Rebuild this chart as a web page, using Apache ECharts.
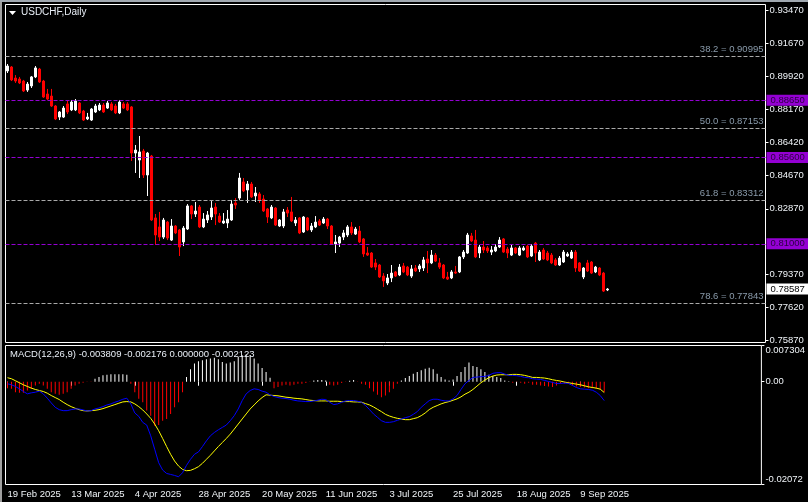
<!DOCTYPE html>
<html><head><meta charset="utf-8">
<script src="https://cdn.jsdelivr.net/npm/echarts@6/dist/echarts.min.js"></script>
<style>html,body{margin:0;padding:0;background:#000;overflow:hidden}#c{width:808px;height:502px}</style>
</head><body><div id="c"></div>
<script>
// ---- trading days (categories) ----
const febDays = [19,20,21,24,25,26,27,28];
const marDays = [3,4,5,6,7,10,11,12,13,14,17,18,19,20,21,24,25,26,27,28,31];
const aprDays = [1,2,3,4,7,8,9,10,11,14,15,16,17,18,21,22,23,24,25,28,29,30];
const mayDays = [1,2,5,6,7,8,9,12,13,14,15,16,19,20,21,22,23,26,27,28,29,30];
const junDays = [2,3,4,5,6,9,10,11,12,13,16,17,18,19,20,23,24,25,26,27,30];
const julDays = [1,2,3,4,7,8,9,10,11,14,15,16,17,18,21,22,23,24,25,28,29,30,31];
const augDays = [1,4,5,6,7,8,11,12,13,14,15,18,19,20,21,22,25,26,27,28,29];
const sepDays = [1,2,3,4,5,8,9,10,11,12,15,16,17];

// ---- OHLC ----
const openP = [0.9022,0.9043,0.8984,0.8979,0.8968,0.8920,0.8942,0.8990,0.9032,0.8968,
0.8899,0.8888,0.8835,0.8776,0.8776,0.8846,0.8814,0.8814,0.8851,0.8808,
0.8766,0.8760,0.8803,0.8814,0.8840,0.8824,0.8846,0.8835,0.8798,0.8846,
0.8846,0.8830,0.8584,0.8547,0.8595,0.8467,0.8568,0.8238,0.8190,0.8136,
0.8216,0.8120,0.8195,0.8174,0.8110,0.8179,0.8302,0.8259,0.8296,0.8190,
0.8227,0.8243,0.8296,0.8248,0.8211,0.8211,0.8227,0.8318,0.8344,0.8430,
0.8387,0.8419,0.8355,0.8366,0.8339,0.8286,0.8238,0.8291,0.8195,0.8195,
0.8280,0.8270,0.8211,0.8238,0.8163,0.8238,0.8174,0.8190,0.8222,0.8211,
0.8232,0.8195,0.8099,0.8104,0.8136,0.8147,0.8190,0.8152,0.8168,0.8126,
0.8051,0.8051,0.7998,0.7987,0.7928,0.7891,0.7918,0.7950,0.7934,0.7982,
0.7976,0.7928,0.7971,0.7966,0.7971,0.8019,0.7998,0.8040,0.7998,0.7987,
0.7923,0.7918,0.7950,0.7950,0.8030,0.8051,0.8142,0.8120,0.8051,0.8083,
0.8078,0.8056,0.8062,0.8083,0.8126,0.8072,0.8040,0.8078,0.8040,0.8067,
0.8088,0.8035,0.8104,0.8014,0.8067,0.8051,0.8040,0.8014,0.7987,0.8003,
0.8035,0.8024,0.8056,0.7998,0.7923,0.7998,0.8003,0.7950,0.7971,0.7944,
0.7854];
const closeP = [0.9048,0.8974,0.8968,0.8958,0.8915,0.8952,0.8990,0.9038,0.8963,0.8883,
0.8872,0.8835,0.8766,0.8803,0.8824,0.8803,0.8856,0.8862,0.8798,0.8760,
0.8776,0.8819,0.8835,0.8840,0.8803,0.8851,0.8814,0.8798,0.8856,0.8824,
0.8814,0.8584,0.8600,0.8590,0.8467,0.8584,0.8227,0.8147,0.8136,0.8227,
0.8131,0.8195,0.8158,0.8083,0.8184,0.8302,0.8259,0.8275,0.8190,0.8232,
0.8254,0.8291,0.8259,0.8216,0.8222,0.8232,0.8312,0.8307,0.8451,0.8382,
0.8419,0.8350,0.8371,0.8334,0.8275,0.8243,0.8296,0.8200,0.8227,0.8270,
0.8264,0.8222,0.8227,0.8158,0.8243,0.8174,0.8195,0.8216,0.8200,0.8232,
0.8195,0.8099,0.8110,0.8136,0.8158,0.8190,0.8158,0.8179,0.8110,0.8046,
0.8040,0.7976,0.7976,0.7923,0.7902,0.7918,0.7944,0.7928,0.7976,0.7950,
0.7934,0.7966,0.7955,0.7982,0.8014,0.7998,0.8040,0.8008,0.7976,0.7918,
0.7912,0.7950,0.7944,0.8030,0.8056,0.8147,0.8115,0.8030,0.8083,0.8067,
0.8062,0.8067,0.8083,0.8120,0.8056,0.8051,0.8078,0.8051,0.8078,0.8078,
0.8030,0.8088,0.8051,0.8056,0.8019,0.8014,0.7998,0.7987,0.8024,0.8056,
0.8046,0.8056,0.7971,0.7955,0.7971,0.7955,0.7944,0.7976,0.7934,0.7848,
0.78587];
const lowP = [0.9011,0.8968,0.8958,0.8952,0.8910,0.8910,0.8931,0.8984,0.8958,0.8878,
0.8867,0.8830,0.8760,0.8760,0.8771,0.8792,0.8808,0.8808,0.8792,0.8755,
0.8760,0.8755,0.8798,0.8808,0.8798,0.8819,0.8808,0.8792,0.8792,0.8819,
0.8808,0.8542,0.8478,0.8451,0.8451,0.8355,0.8222,0.8094,0.8115,0.8126,
0.8120,0.8115,0.8152,0.8035,0.8088,0.8174,0.8232,0.8243,0.8184,0.8184,
0.8211,0.8227,0.8200,0.8211,0.8206,0.8184,0.8222,0.8286,0.8334,0.8376,
0.8318,0.8344,0.8323,0.8318,0.8270,0.8211,0.8232,0.8195,0.8190,0.8184,
0.8243,0.8216,0.8195,0.8152,0.8158,0.8168,0.8163,0.8184,0.8195,0.8206,
0.8179,0.8094,0.8051,0.8083,0.8120,0.8136,0.8147,0.8147,0.8104,0.8030,
0.8035,0.7971,0.7960,0.7918,0.7870,0.7880,0.7896,0.7923,0.7928,0.7944,
0.7928,0.7918,0.7950,0.7950,0.7955,0.7944,0.7992,0.8003,0.7966,0.7912,
0.7907,0.7912,0.7939,0.7944,0.8019,0.8046,0.8110,0.8024,0.8024,0.8051,
0.8051,0.8040,0.8056,0.8078,0.8051,0.8024,0.8035,0.8046,0.8035,0.8062,
0.8024,0.8030,0.8003,0.8008,0.8014,0.8008,0.7992,0.7982,0.7982,0.7998,
0.8030,0.8019,0.7950,0.7950,0.7912,0.7950,0.7939,0.7944,0.7928,0.7843,
0.7848];
const highP = [0.9059,0.9048,0.9000,0.8990,0.8974,0.8963,0.8995,0.9048,0.9038,0.8974,
0.8926,0.8926,0.8840,0.8808,0.8835,0.8862,0.8867,0.8872,0.8856,0.8814,
0.8798,0.8824,0.8846,0.8851,0.8851,0.8862,0.8856,0.8846,0.8867,0.8856,
0.8856,0.8835,0.8627,0.8675,0.8606,0.8590,0.8574,0.8259,0.8270,0.8238,
0.8222,0.8232,0.8200,0.8179,0.8195,0.8312,0.8307,0.8323,0.8307,0.8264,
0.8275,0.8328,0.8318,0.8264,0.8264,0.8280,0.8334,0.8344,0.8478,0.8451,
0.8435,0.8430,0.8403,0.8376,0.8360,0.8291,0.8307,0.8296,0.8232,0.8286,
0.8296,0.8350,0.8243,0.8243,0.8248,0.8243,0.8211,0.8248,0.8232,0.8243,
0.8238,0.8200,0.8147,0.8142,0.8174,0.8200,0.8216,0.8190,0.8195,0.8131,
0.8083,0.8056,0.8019,0.7992,0.7944,0.7939,0.7987,0.7955,0.7992,0.7998,
0.7982,0.7987,0.7987,0.7992,0.8030,0.8062,0.8067,0.8051,0.8024,0.7992,
0.7950,0.7960,0.7982,0.8035,0.8067,0.8158,0.8158,0.8174,0.8094,0.8115,
0.8088,0.8088,0.8099,0.8136,0.8131,0.8083,0.8094,0.8083,0.8088,0.8088,
0.8094,0.8099,0.8110,0.8067,0.8078,0.8062,0.8051,0.8024,0.8035,0.8067,
0.8056,0.8067,0.8067,0.8003,0.7976,0.8014,0.8008,0.7982,0.7976,0.7950,
0.7864];

// ---- MACD ----
const histV = [-0.00129,-0.00142,-0.00210,-0.00223,-0.00223,-0.00176,-0.00142,-0.00074,-0.00041,-0.00074,
-0.00142,-0.00210,-0.00244,-0.00264,-0.00244,-0.00210,-0.00142,-0.00074,-0.00041,-0.00020,
-0.00007,-0.00003,0.00061,0.00095,0.00129,0.00142,0.00149,0.00149,0.00149,0.00149,
0.00142,-0.00041,-0.00210,-0.00345,-0.00413,-0.00582,-0.00684,-0.00887,-0.00873,-0.00785,
-0.00751,-0.00650,-0.00514,-0.00413,-0.00210,0.00095,0.00250,0.00366,0.00413,0.00433,
0.00454,0.00467,0.00481,0.00454,0.00399,0.00366,0.00386,0.00413,0.00501,0.00535,
0.00548,0.00535,0.00467,0.00366,0.00278,0.00196,0.00080,-0.00129,-0.00108,-0.00074,
-0.00061,-0.00074,-0.00061,-0.00041,-0.00041,-0.00027,-0.00007,0.00027,0.00034,0.00034,
0.00027,-0.00061,-0.00074,-0.00061,-0.00027,-0.00007,0.00020,0.00034,-0.00005,-0.00041,
-0.00061,-0.00129,-0.00196,-0.00264,-0.00311,-0.00278,-0.00210,-0.00142,-0.00041,0.00027,
0.00074,0.00115,0.00162,0.00196,0.00230,0.00264,0.00284,0.00250,0.00162,0.00095,
0.00047,0.00027,0.00047,0.00115,0.00196,0.00298,0.00386,0.00318,0.00298,0.00250,
0.00196,0.00142,0.00115,0.00095,0.00074,0.00027,0.00010,-0.00020,-0.00007,-0.00020,
-0.00041,-0.00020,-0.00061,-0.00061,-0.00074,-0.00088,-0.00095,-0.00108,-0.00074,-0.00041,
-0.00034,-0.00041,-0.00074,-0.00095,-0.00108,-0.00115,-0.00129,-0.00129,-0.00142,-0.00156,
-0.002123];
const macdV = [-0.00041,-0.00062,-0.00095,-0.00143,-0.00197,-0.00244,-0.00224,-0.00211,-0.00190,-0.00244,
-0.00332,-0.00427,-0.00515,-0.00563,-0.00583,-0.00583,-0.00563,-0.00549,-0.00549,-0.00569,
-0.00590,-0.00583,-0.00549,-0.00529,-0.00502,-0.00468,-0.00447,-0.00413,-0.00387,-0.00353,
-0.00332,-0.00447,-0.00630,-0.00698,-0.00820,-0.00874,-0.01090,-0.01361,-0.01632,-0.01781,
-0.01849,-0.01869,-0.01889,-0.01916,-0.01835,-0.01686,-0.01564,-0.01463,-0.01415,-0.01307,
-0.01192,-0.01090,-0.01023,-0.00969,-0.00921,-0.00874,-0.00786,-0.00684,-0.00549,-0.00380,
-0.00244,-0.00177,-0.00143,-0.00156,-0.00190,-0.00211,-0.00264,-0.00298,-0.00319,-0.00332,
-0.00339,-0.00353,-0.00373,-0.00387,-0.00393,-0.00400,-0.00400,-0.00387,-0.00373,-0.00353,
-0.00359,-0.00414,-0.00461,-0.00447,-0.00414,-0.00387,-0.00380,-0.00380,-0.00393,-0.00414,
-0.00481,-0.00562,-0.00650,-0.00718,-0.00786,-0.00819,-0.00819,-0.00806,-0.00778,-0.00752,
-0.00725,-0.00704,-0.00657,-0.00603,-0.00515,-0.00447,-0.00380,-0.00353,-0.00353,-0.00373,
-0.00387,-0.00387,-0.00346,-0.00278,-0.00156,-0.00041,0.00026,0.00087,0.00094,0.00101,
0.00108,0.00128,0.00169,0.00182,0.00182,0.00155,0.00128,0.00128,0.00121,0.00108,
0.00087,0.00081,0.00060,0.00053,0.00047,0.00026,0.00006,-0.00014,-0.00035,-0.00035,
-0.00028,-0.00035,-0.00075,-0.00116,-0.00143,-0.00150,-0.00156,-0.00170,-0.00211,-0.00278,
-0.003809];
const signalV = [0.00081,0.00060,0.00020,-0.00021,-0.00062,-0.00095,-0.00129,-0.00156,-0.00177,-0.00197,
-0.00231,-0.00278,-0.00319,-0.00359,-0.00413,-0.00461,-0.00502,-0.00535,-0.00563,-0.00583,
-0.00590,-0.00583,-0.00576,-0.00563,-0.00542,-0.00515,-0.00488,-0.00461,-0.00433,-0.00407,
-0.00400,-0.00407,-0.00447,-0.00502,-0.00569,-0.00650,-0.00738,-0.00853,-0.00988,-0.01144,
-0.01307,-0.01463,-0.01598,-0.01700,-0.01768,-0.01794,-0.01787,-0.01754,-0.01713,-0.01645,
-0.01564,-0.01483,-0.01395,-0.01307,-0.01225,-0.01144,-0.01056,-0.00955,-0.00853,-0.00751,
-0.00650,-0.00549,-0.00468,-0.00387,-0.00319,-0.00264,-0.00271,-0.00278,-0.00284,-0.00298,
-0.00312,-0.00319,-0.00332,-0.00339,-0.00346,-0.00359,-0.00373,-0.00380,-0.00387,-0.00387,
-0.00387,-0.00393,-0.00393,-0.00393,-0.00400,-0.00400,-0.00400,-0.00407,-0.00407,-0.00414,
-0.00441,-0.00468,-0.00508,-0.00556,-0.00603,-0.00657,-0.00691,-0.00718,-0.00738,-0.00752,
-0.00765,-0.00765,-0.00745,-0.00725,-0.00684,-0.00630,-0.00562,-0.00515,-0.00481,-0.00447,
-0.00420,-0.00400,-0.00373,-0.00346,-0.00305,-0.00251,-0.00211,-0.00156,-0.00089,-0.00021,
0.00033,0.00081,0.00114,0.00135,0.00141,0.00141,0.00141,0.00148,0.00148,0.00141,
0.00128,0.00108,0.00087,0.00087,0.00081,0.00074,0.00060,0.00040,0.00026,0.00013,
-0.00007,-0.00021,-0.00035,-0.00048,-0.00062,-0.00082,-0.00102,-0.00116,-0.00129,-0.00150,
-0.002176];

// ---- levels & ticks ----
const fibLevels = [38.2, 50.0, 61.8, 78.6];
const fibPrices = [0.90995, 0.87153, 0.83312, 0.77843];
const hLinePrices = [0.88650, 0.85600, 0.81000];
const priceTicks = [0.75870, 0.77620, 0.79370, 0.82870, 0.84670, 0.86420, 0.88170, 0.89920, 0.91670, 0.93470];
const macdTicks = [-0.02072, 0, 0.007304];
const TOTAL_SLOTS = 190;

const MON = ['Jan','Feb','Mar','Apr','May','Jun','Jul','Aug','Sep'];
const monthLists = [[2,febDays],[3,marDays],[4,aprDays],[5,mayDays],[6,junDays],[7,julDays],[8,augDays],[9,sepDays]];
const cats = [];
monthLists.forEach(([m, days]) => days.forEach(d => cats.push(d + ' ' + MON[m-1] + ' 2025')));
const nBars = cats.length;
for (let i = nBars; i < TOTAL_SLOTS; i++) cats.push('~' + i);

const candles = openP.map((o, i) => [o, closeP[i], lowP[i], highP[i]]);

const FONT = '"Liberation Sans", Arial, sans-serif';
const showIdx = (i) => i % 16 === 0 && i < nBars;

const markData = [];
fibPrices.forEach((p, k) => markData.push({
  yAxis: p,
  lineStyle: { color: '#a9a9a9', type: [4, 2], width: 1 },
  label: { show: true, position: 'insideEndTop', distance: 2,
    formatter: fibLevels[k].toFixed(1) + ' = ' + p.toFixed(5),
    color: '#8a9bab', fontSize: 9.5, fontFamily: FONT }
}));
hLinePrices.forEach(p => markData.push({
  yAxis: p,
  lineStyle: { color: '#9400d3', type: [4, 2], width: 1 },
  label: { show: true, position: 'end', distance: 1, formatter: p.toFixed(5),
    backgroundColor: '#9400d3', color: '#2a0040', padding: [1, 4, 0, 4], lineHeight: 10,
    fontSize: 9.5, fontFamily: FONT }
}));
const lastPrice = closeP[nBars - 1];
markData.push({
  yAxis: lastPrice,
  lineStyle: { color: 'rgba(0,0,0,0)', width: 1, type: 'solid' },
  label: { show: true, position: 'end', distance: 1, formatter: lastPrice.toFixed(5),
    backgroundColor: '#ffffff', color: '#000000', padding: [1, 4, 0, 4], lineHeight: 10,
    fontSize: 9.5, fontFamily: FONT }
});

const macdTitle = 'MACD(12,26,9) ' + macdV[nBars-1].toFixed(6) + ' ' + signalV[nBars-1].toFixed(6) +
  ' ' + (0).toFixed(6) + ' ' + histV[nBars-1].toFixed(6);

const chart = echarts.init(document.getElementById('c'), null, { renderer: 'canvas' });
chart.setOption({
  backgroundColor: '#000',
  animation: false,
  title: [
    { text: 'USDCHF,Daily', left: 21, top: 7, padding: 0,
      textStyle: { color: '#e8eef6', fontSize: 10, fontWeight: 'normal', fontFamily: FONT } },
    { text: macdTitle, left: 10, top: 349, padding: 0,
      textStyle: { color: '#e8eef6', fontSize: 9.5, fontWeight: 'normal', fontFamily: FONT } }
  ],
  graphic: [
    { type: 'rect', shape: { x: 0, y: 0, width: 2, height: 502 }, style: { fill: '#a0a0a0' }, silent: true },
    { type: 'rect', shape: { x: 0, y: 0, width: 808, height: 2 }, style: { fill: '#a0a8b0' }, silent: true },
    { type: 'polygon', shape: { points: [[9, 11], [16, 11], [12.5, 15]] }, style: { fill: '#ffffff' }, silent: true }
  ],
  grid: [
    { left: 5.5, top: 4.5, width: 760, height: 338, show: true, borderColor: '#ffffff', borderWidth: 1, backgroundColor: 'transparent' },
    { left: 5.5, top: 345.5, width: 760, height: 139, show: true, borderColor: '#ffffff', borderWidth: 1, backgroundColor: 'transparent' }
  ],
  xAxis: [
    { type: 'category', gridIndex: 0, data: cats, show: false },
    { type: 'category', gridIndex: 1, data: cats,
      axisLine: { show: false },
      axisTick: { show: true, alignWithLabel: true, interval: showIdx, length: 4, lineStyle: { color: '#ffffff' } },
      axisLabel: { interval: showIdx, align: 'left', margin: 5, color: '#f0f4f8', fontSize: 9.5, fontFamily: FONT } }
  ],
  yAxis: [
    { type: 'value', gridIndex: 0, position: 'right', min: 0.757367, max: 0.937633,
      splitLine: { show: false }, axisLine: { show: false },
      axisTick: { show: true, length: 3, lineStyle: { color: '#ffffff' }, customValues: priceTicks },
      axisLabel: { customValues: priceTicks, formatter: v => v.toFixed(5), color: '#f0f4f8', fontSize: 9.5, fontFamily: FONT, margin: 4 } },
    { type: 'value', gridIndex: 1, position: 'right', min: -0.02072, max: 0.007304,
      splitLine: { show: false }, axisLine: { show: false },
      axisTick: { show: true, length: 3, lineStyle: { color: '#ffffff' }, customValues: macdTicks },
      axisLabel: { customValues: macdTicks, formatter: v => (v === 0 ? '0.00' : String(v)),
        verticalAlignMinLabel: 'bottom', verticalAlignMaxLabel: 'top',
        color: '#f0f4f8', fontSize: 9.5, fontFamily: FONT, margin: 4 } }
  ],
  series: [
    { type: 'candlestick', xAxisIndex: 0, yAxisIndex: 0, data: candles, barWidth: 2,
      itemStyle: { color: '#ffffff', color0: '#ff0000', borderColor: '#ffffff', borderColor0: '#ff0000', borderColorDoji: '#ffffff', borderWidth: 1 },
      markLine: { silent: true, symbol: ['none', 'none'], animation: false, precision: 6, data: markData } },
    { type: 'bar', xAxisIndex: 1, yAxisIndex: 1, data: histV, barWidth: 1,
      itemStyle: { color: p => (p.value >= 0 ? '#ffffff' : '#ff0000') } },
    { type: 'line', xAxisIndex: 1, yAxisIndex: 1, data: signalV, symbol: 'none',
      lineStyle: { color: '#ffff00', width: 1 } },
    { type: 'line', xAxisIndex: 1, yAxisIndex: 1, data: macdV, symbol: 'none',
      lineStyle: { color: '#0000ff', width: 1 } }
  ]
});
</script>
</body></html>
